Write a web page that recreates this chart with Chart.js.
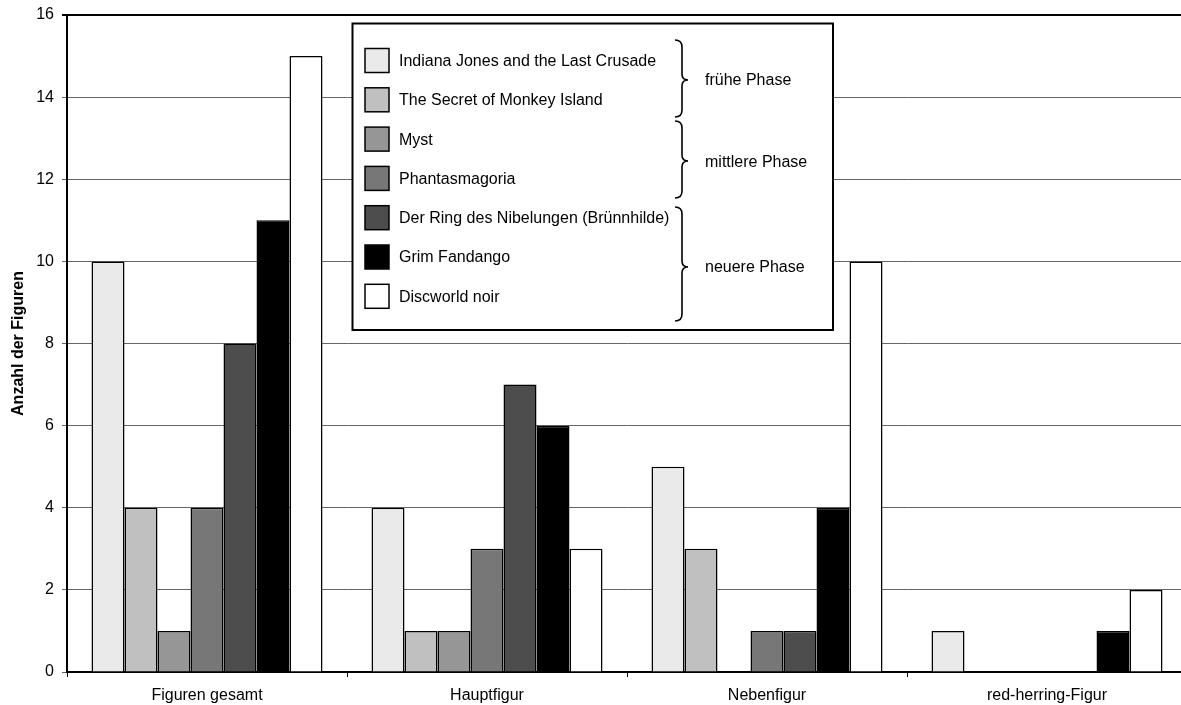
<!DOCTYPE html>
<html lang="de">
<head>
<meta charset="utf-8">
<title>Anzahl der Figuren</title>
<script src="https://cdn.jsdelivr.net/npm/chart.js@4/dist/chart.umd.min.js"></script>
<style>
  html, body { margin: 0; padding: 0; background: #fff; overflow: hidden; }
  #wrap { position: absolute; left: 0; top: 0; width: 1190px; height: 705px; }
</style>
</head>
<body>
<div id="wrap"><canvas id="chart" width="1190" height="705"></canvas></div>
<script>
// Figure types on the x axis
const categories = ['Figuren gesamt', 'Hauptfigur', 'Nebenfigur', 'red-herring-Figur'];

// Games (series), in legend order
const games = [
  'Indiana Jones and the Last Crusade',
  'The Secret of Monkey Island',
  'Myst',
  'Phantasmagoria',
  'Der Ring des Nibelungen (Brünnhilde)',
  'Grim Fandango',
  'Discworld noir'
];

// Counts per game: [gesamt, Hauptfigur, Nebenfigur, red-herring]
const indianaJones   = [10, 4, 5, 1];
const monkeyIsland   = [4, 1, 3, 0];
const myst           = [1, 1, 0, 0];
const phantasmagoria = [4, 3, 1, 0];
const ringNibelungen = [8, 7, 1, 0];
const grimFandango   = [11, 6, 4, 1];
const discworldNoir  = [15, 3, 10, 2];

const seriesValues = [indianaJones, monkeyIsland, myst, phantasmagoria, ringNibelungen, grimFandango, discworldNoir];

// Y axis tick labels
const yTicks = [0, 2, 4, 6, 8, 10, 12, 14, 16];

// Phase groups shown with braces in the legend
const phases = ['frühe Phase', 'mittlere Phase', 'neuere Phase'];

const fills = ['#eaeaea', '#c0c0c0', '#969696', '#777777', '#4d4d4d', '#000000', '#ffffff'];
const FONT = 'Arial, "Liberation Sans", sans-serif';

const datasets = games.map((g, i) => ({
  label: g,
  data: seriesValues[i],
  backgroundColor: fills[i],
  borderColor: '#000',
  borderWidth: 1.5,
  borderSkipped: 'bottom',
  categoryPercentage: 0.825,
  barPercentage: 1.0
}));

// Boxed legend with braces grouping the games into phases
const phaseLegend = {
  id: 'phaseLegend',
  afterDraw(chart) {
    const ctx = chart.ctx;
    const box = { l: 352.5, t: 23.5, r: 833, b: 330 };
    ctx.save();
    ctx.fillStyle = '#fff';
    ctx.fillRect(box.l, box.t, box.r - box.l, box.b - box.t);
    ctx.strokeStyle = '#000';
    ctx.lineWidth = 2;
    ctx.strokeRect(box.l, box.t, box.r - box.l, box.b - box.t);

    const rowY0 = 60.5, rowStep = 39.3;
    ctx.font = '16px ' + FONT;
    ctx.textBaseline = 'middle';
    ctx.textAlign = 'left';
    chart.data.datasets.forEach((ds, i) => {
      const cy = rowY0 + i * rowStep;
      ctx.fillStyle = ds.backgroundColor;
      ctx.fillRect(365, cy - 12, 24, 24);
      ctx.lineWidth = 1.5;
      ctx.strokeStyle = '#000';
      ctx.strokeRect(365, cy - 12, 24, 24);
      ctx.fillStyle = '#000';
      ctx.fillText(ds.label, 399, cy + 1);
    });

    // braces: [top, bottom, tip]
    const braces = [[40, 117, 80], [121, 198, 161], [207, 321, 267]];
    const x0 = 675, xl = 682, xt = 688;
    ctx.lineWidth = 1.6;
    ctx.strokeStyle = '#000';
    braces.forEach(([a, b, m]) => {
      ctx.beginPath();
      ctx.moveTo(x0, a);
      ctx.quadraticCurveTo(xl, a, xl, a + 7);
      ctx.lineTo(xl, m - 6);
      ctx.quadraticCurveTo(xl, m, xt, m);
      ctx.quadraticCurveTo(xl, m, xl, m + 6);
      ctx.lineTo(xl, b - 7);
      ctx.quadraticCurveTo(xl, b, x0, b);
      ctx.stroke();
    });
    ctx.fillStyle = '#000';
    const phaseY = [81, 163, 268];
    phases.forEach((p, i) => ctx.fillText(p, 705, phaseY[i]));
    ctx.restore();
  }
};

new Chart(document.getElementById('chart'), {
  type: 'bar',
  data: { labels: categories, datasets },
  options: {
    responsive: false,
    animation: false,
    layout: { padding: { top: 15, right: 3, left: 0, bottom: 0 } },
    plugins: { legend: { display: false }, tooltip: { enabled: false } },
    scales: {
      x: {
        grid: {
          offset: true,
          drawOnChartArea: false,
          drawTicks: true,
          tickLength: 5,
          color: '#000',
          lineWidth: 1
        },
        border: { display: true, color: '#000', width: 2 },
        ticks: { color: '#000', font: { family: FONT, size: 16 }, padding: 9, maxRotation: 0 },
        afterFit(scale) { scale.height = 33; }
      },
      y: {
        min: 0,
        max: 16,
        afterBuildTicks(scale) { scale.ticks = yTicks.map(v => ({ value: v })); },
        grid: {
          color: ctx => (ctx.tick && ctx.tick.value === 16) ? '#000' : '#666666',
          lineWidth: ctx => (ctx.tick && ctx.tick.value === 16) ? 2 : 1,
          tickLength: 5,
          drawTicks: true
        },
        border: { display: true, color: '#000', width: 2 },
        ticks: { color: '#000', font: { family: FONT, size: 16 }, padding: 8 },
        title: {
          display: true,
          text: 'Anzahl der Figuren',
          color: '#000',
          font: { family: FONT, size: 16, weight: 'bold' },
          padding: { top: 9, bottom: 0 }
        },
        afterFit(scale) {
          scale.width = 67;
          scale.paddingTop = 0;
          scale.paddingBottom = 0;
        }
      }
    }
  },
  plugins: [phaseLegend]
});
</script>
</body>
</html>
